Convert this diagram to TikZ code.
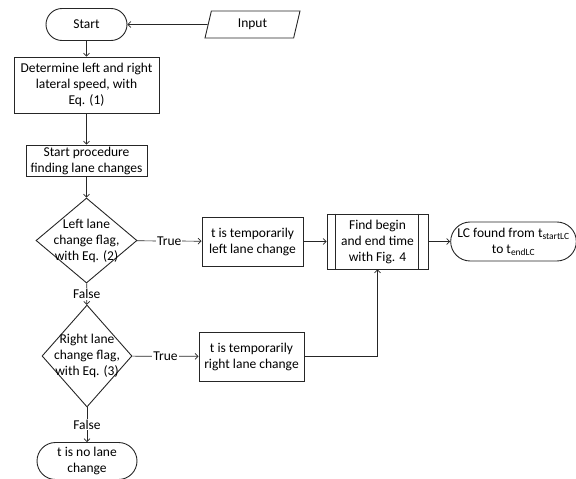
\documentclass[tikz,border=0pt]{standalone}
\usepackage{fontspec}
\setmainfont{Carlito}
\usetikzlibrary{shapes.geometric,shapes.misc,arrows.meta,calc}

\begin{document}
\begin{tikzpicture}[x=1pt,y=-1pt,
  font=\fontsize{13.5}{16}\selectfont,
  every node/.style={text=black},
  process/.style={draw=black!85,line width=0.9pt,align=center,inner sep=1pt},
  terminal/.style={draw=black!85,line width=0.9pt,rounded rectangle,align=center,inner sep=1pt},
  decision/.style={draw=black!85,line width=0.9pt,diamond,inner sep=0pt},
  io/.style={draw=black!85,line width=0.9pt,trapezium,trapezium left angle=70,
    trapezium right angle=110,trapezium stretches body},
  link/.style={draw=black!85,line width=0.7pt,-{Straight Barb[length=3pt,width=6pt]}},
  tag/.style={fill=white,inner sep=1pt}]
\useasboundingbox (0,0) rectangle (576,479);

\node[terminal,minimum width=83pt,minimum height=32pt] (start) at (86.5,24.5) {Start};
\node[io,minimum width=95pt,minimum height=27pt] (input) at (252.5,24.5) {Input};
\node[process,minimum width=145pt,minimum height=56pt] (speed) at (86.5,85)
  {Determine left and right\\lateral speed, with\\Eq. (1)};
\node[process,minimum width=121pt,minimum height=31pt] (procedure) at (86.5,160.5)
  {Start procedure\\finding lane changes};
\node[decision,minimum width=101pt,minimum height=85pt,
  label={[align=center]center:Left lane\\change flag,\\with Eq. (2)}] (flagL) at (86.5,240.5) {};
\node[decision,minimum width=90pt,minimum height=102pt,
  label={[align=center]center:Right lane\\change flag,\\with Eq. (3)}] (flagR) at (87,356) {};
\node[terminal,minimum width=102pt,minimum height=37pt] (nolc) at (87,461) {t is no lane\\change};
\node[process,minimum width=101pt,minimum height=49pt] (leftlc) at (252.5,241.5)
  {t is temporarily\\left lane change};
\node[process,minimum width=105pt,minimum height=49pt] (rightlc) at (251.5,356.5)
  {t is temporarily\\right lane change};
\node[process,minimum width=101pt,minimum height=55pt] (find) at (377.5,241.5)
  {Find begin\\and end time\\with Fig. 4};
\draw[black!85,line width=0.9pt]
  ($(find.north west)+(9,0)$) -- ($(find.south west)+(9,0)$)
  ($(find.north east)+(-10,0)$) -- ($(find.south east)+(-10,0)$);
\node[terminal,minimum width=123pt,minimum height=39pt] (lcfound) at (513.5,241.5)
  {LC found from t\textsubscript{startLC}\\to t\textsubscript{endLC}};

\draw[link] (input) -- (start);
\draw[link] (start) -- (speed);
\draw[link] (speed) -- (procedure);
\draw[link] (procedure) -- (flagL);
\draw[link] (flagL) -- node[tag] {True} (leftlc);
\draw[link] (flagL) -- node[tag] {False} (flagR);
\draw[link] (flagR) -- node[tag] {True} (rightlc);
\draw[link] (flagR) -- node[tag] {False} (nolc);
\draw[link] (leftlc) -- (find);
\draw[link] (rightlc) -| (find);
\draw[link] (find) -- (lcfound);
\end{tikzpicture}
\end{document}
